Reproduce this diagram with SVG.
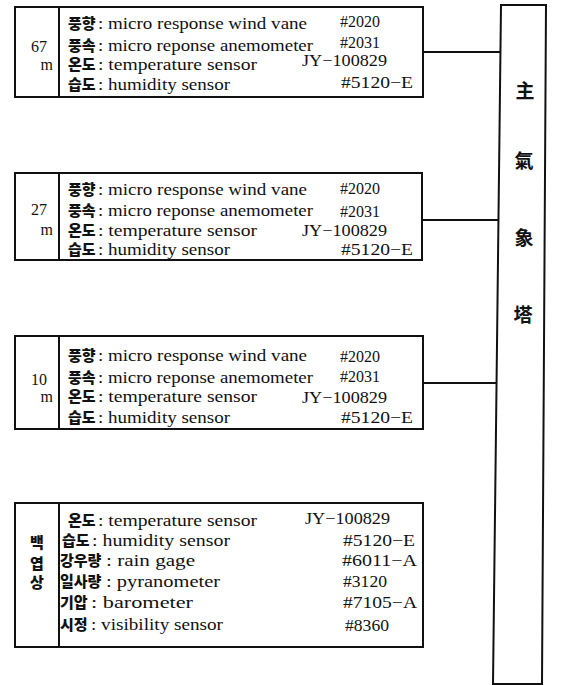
<svg xmlns="http://www.w3.org/2000/svg" width="569" height="685" viewBox="0 0 569 685">
<style>
.box{fill:none;stroke:#111;stroke-width:2}
.ln{fill:none;stroke:#111;stroke-width:2}
.en{font-family:"Liberation Serif","Times New Roman",serif;font-size:16px;fill:#111}
.cd{font-family:"Liberation Serif","Times New Roman",serif;font-size:17px;fill:#111}
.ko{font-family:"Noto Sans CJK KR",sans-serif;font-weight:900;font-size:15px;fill:#111}
.hz{font-family:"Noto Sans CJK KR",sans-serif;font-weight:700;font-size:19px;fill:#111;text-anchor:middle}
.end{text-anchor:end}
</style>
<rect width="569" height="685" fill="#fff"/>
<g id="tower">
<path class="ln" d="M501,5 L546,5 L542,684 L493,684 Z"/>
<text class="hz" x="525" y="98">主</text>
<text class="hz" x="524" y="168">氣</text>
<text class="hz" x="524" y="245">象</text>
<text class="hz" x="523" y="322">塔</text>
</g>
<g id="connectors">
<line class="ln" x1="423" y1="52" x2="500.5" y2="52"/>
<line class="ln" x1="422" y1="220" x2="498.5" y2="220"/>
<line class="ln" x1="423" y1="383" x2="496.5" y2="383"/>
</g>
<g id="box67">
<rect class="box" x="15" y="7" width="408" height="90"/>
<line class="ln" x1="59" y1="7" x2="59" y2="97"/>
<text class="en end" x="47" y="52">67</text>
<text class="en end" x="53" y="70">m</text>
<text class="ko" x="68" y="29">풍향</text>
<text class="ko" x="68" y="51">풍속</text>
<text class="ko" x="68" y="70">온도</text>
<text class="ko" x="68" y="90">습도</text>
<text class="en" x="98" y="29" textLength="209" lengthAdjust="spacingAndGlyphs">: micro response wind vane</text>
<text class="en" x="98" y="51" textLength="215" lengthAdjust="spacingAndGlyphs">: micro reponse anemometer</text>
<text class="en" x="98" y="70" textLength="159" lengthAdjust="spacingAndGlyphs">: temperature sensor</text>
<text class="en" x="98" y="90" textLength="132" lengthAdjust="spacingAndGlyphs">: humidity sensor</text>
<text class="cd" x="340" y="27" textLength="40" lengthAdjust="spacingAndGlyphs">#2020</text>
<text class="cd" x="340" y="48" textLength="40" lengthAdjust="spacingAndGlyphs">#2031</text>
<text class="cd" x="302" y="66" textLength="85" lengthAdjust="spacingAndGlyphs">JY−100829</text>
<text class="cd" x="341" y="88" textLength="72" lengthAdjust="spacingAndGlyphs">#5120−E</text>
</g>
<g id="box27">
<rect class="box" x="15" y="173" width="407" height="87"/>
<line class="ln" x1="59" y1="173" x2="59" y2="260"/>
<text class="en end" x="47" y="215">27</text>
<text class="en end" x="53" y="235">m</text>
<text class="ko" x="68" y="195">풍향</text>
<text class="ko" x="68" y="216">풍속</text>
<text class="ko" x="68" y="236">온도</text>
<text class="ko" x="68" y="255">습도</text>
<text class="en" x="98" y="195" textLength="209" lengthAdjust="spacingAndGlyphs">: micro response wind vane</text>
<text class="en" x="98" y="216" textLength="215" lengthAdjust="spacingAndGlyphs">: micro reponse anemometer</text>
<text class="en" x="98" y="236" textLength="159" lengthAdjust="spacingAndGlyphs">: temperature sensor</text>
<text class="en" x="98" y="255" textLength="132" lengthAdjust="spacingAndGlyphs">: humidity sensor</text>
<text class="cd" x="340" y="194" textLength="40" lengthAdjust="spacingAndGlyphs">#2020</text>
<text class="cd" x="340" y="217" textLength="40" lengthAdjust="spacingAndGlyphs">#2031</text>
<text class="cd" x="302" y="236" textLength="85" lengthAdjust="spacingAndGlyphs">JY−100829</text>
<text class="cd" x="341" y="255" textLength="72" lengthAdjust="spacingAndGlyphs">#5120−E</text>
</g>
<g id="box10">
<rect class="box" x="15" y="336" width="408" height="93"/>
<line class="ln" x1="59" y1="336" x2="59" y2="429"/>
<text class="en end" x="47" y="385">10</text>
<text class="en end" x="53" y="402">m</text>
<text class="ko" x="68" y="361">풍향</text>
<text class="ko" x="68" y="383">풍속</text>
<text class="ko" x="68" y="402">온도</text>
<text class="ko" x="68" y="423">습도</text>
<text class="en" x="98" y="361" textLength="209" lengthAdjust="spacingAndGlyphs">: micro response wind vane</text>
<text class="en" x="98" y="383" textLength="215" lengthAdjust="spacingAndGlyphs">: micro reponse anemometer</text>
<text class="en" x="98" y="402" textLength="159" lengthAdjust="spacingAndGlyphs">: temperature sensor</text>
<text class="en" x="98" y="423" textLength="132" lengthAdjust="spacingAndGlyphs">: humidity sensor</text>
<text class="cd" x="340" y="362" textLength="40" lengthAdjust="spacingAndGlyphs">#2020</text>
<text class="cd" x="340" y="382" textLength="40" lengthAdjust="spacingAndGlyphs">#2031</text>
<text class="cd" x="302" y="403" textLength="85" lengthAdjust="spacingAndGlyphs">JY−100829</text>
<text class="cd" x="341" y="423" textLength="72" lengthAdjust="spacingAndGlyphs">#5120−E</text>
</g>
<g id="boxGround">
<rect class="box" x="15" y="503" width="408" height="144"/>
<line class="ln" x1="59" y1="503" x2="59" y2="647"/>
<text class="ko" x="37" y="548" text-anchor="middle">백</text>
<text class="ko" x="37" y="569" text-anchor="middle">엽</text>
<text class="ko" x="37" y="588" text-anchor="middle">상</text>
<text class="ko" x="68" y="526">온도</text>
<text class="ko" x="62" y="546">습도</text>
<text class="ko" x="60" y="566">강우량</text>
<text class="ko" x="60" y="587">일사량</text>
<text class="ko" x="60" y="608">기압</text>
<text class="ko" x="60" y="630">시정</text>
<text class="en" x="98" y="526" textLength="159" lengthAdjust="spacingAndGlyphs">: temperature sensor</text>
<text class="en" x="92" y="546" textLength="138" lengthAdjust="spacingAndGlyphs">: humidity sensor</text>
<text class="en" x="106" y="566" textLength="89" lengthAdjust="spacingAndGlyphs">: rain gage</text>
<text class="en" x="106" y="587" textLength="114" lengthAdjust="spacingAndGlyphs">: pyranometer</text>
<text class="en" x="91" y="608" textLength="102" lengthAdjust="spacingAndGlyphs">: barometer</text>
<text class="en" x="91" y="630" textLength="132" lengthAdjust="spacingAndGlyphs">: visibility sensor</text>
<text class="cd" x="305" y="524" textLength="85" lengthAdjust="spacingAndGlyphs">JY−100829</text>
<text class="cd" x="343" y="546" textLength="72" lengthAdjust="spacingAndGlyphs">#5120−E</text>
<text class="cd" x="342" y="566" textLength="75" lengthAdjust="spacingAndGlyphs">#6011−A</text>
<text class="cd" x="343" y="587" textLength="44" lengthAdjust="spacingAndGlyphs">#3120</text>
<text class="cd" x="343" y="608" textLength="74" lengthAdjust="spacingAndGlyphs">#7105−A</text>
<text class="cd" x="345" y="631" textLength="44" lengthAdjust="spacingAndGlyphs">#8360</text>
</g>
</svg>
